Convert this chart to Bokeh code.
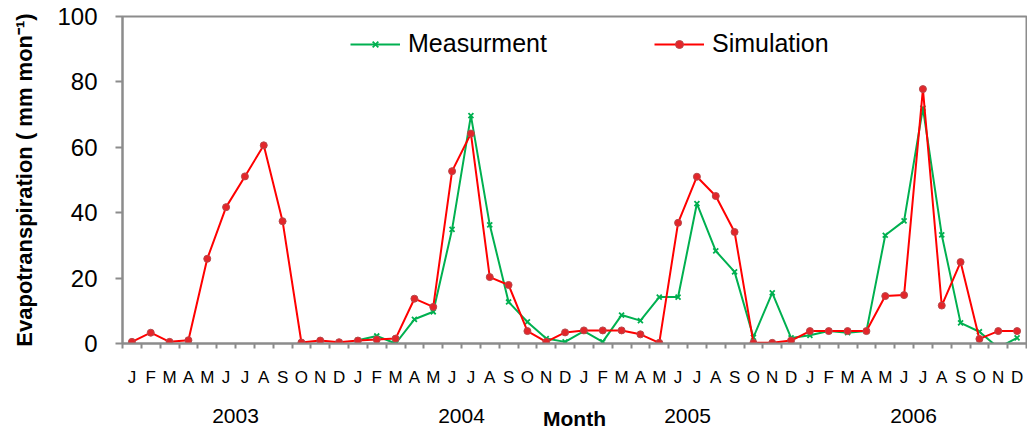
from bokeh.plotting import figure
from bokeh.models import Range1d, FixedTicker, LinearAxis, Legend, LegendItem
from bokeh.embed import file_html
from bokeh.resources import INLINE

# Month letters for Jan 2003 .. Dec 2006
month_letters = ["J", "F", "M", "A", "M", "J", "J", "A", "S", "O", "N", "D"]
years = ["2003", "2004", "2005", "2006"]

# Monthly evapotranspiration (mm/month), simulated from Jan 2003
simulation = [
    0.5, 3.3, 0.5, 1.0, 25.9, 41.7, 51.1, 60.6, 37.4, 0.3, 0.9, 0.4,
    0.9, 1.2, 1.5, 13.7, 11.2, 52.7, 64.2, 20.3, 17.9, 3.8, 0.5, 3.4,
    4.0, 4.0, 4.0, 2.8, 0.2, 36.9, 51.0, 45.1, 34.1, 0.2, 0.2, 0.9,
    3.8, 3.8, 3.8, 3.8, 14.5, 14.8, 77.8, 11.6, 24.9, 1.4, 3.8, 3.8,
]

# Measured values, available from Jan 2004
measurement = [
    1.0, 2.3, 0.0, 7.4, 9.7, 34.9, 69.7, 36.3, 12.7, 6.6, 1.5, 0.5,
    3.8, 0.5, 8.7, 7.0, 14.2, 14.2, 42.8, 28.3, 21.9, 1.9, 15.5, 1.7,
    2.5, 3.8, 3.3, 3.8, 33.1, 37.5, 72.0, 33.2, 6.3, 3.6, -1.3, 1.7,
]

n_months = len(month_letters) * len(years)
x_sim = [i + 0.5 for i in range(n_months)]
meas_start = n_months - len(measurement)
x_meas = [meas_start + i + 0.5 for i in range(len(measurement))]

GRAY = "#8c8c8c"
FONT = "Liberation Sans"
GREEN = "#00b050"
RED = "#ff0000"

p = figure(
    width=1027, height=432,
    x_range=Range1d(0, n_months), y_range=Range1d(0, 100),
    x_axis_type=None,
    output_backend="svg", toolbar_location=None,
    min_border_left=122, min_border_right=1,
    min_border_top=16, min_border_bottom=89,
    background_fill_color="white", border_fill_color="white",
)
p.grid.visible = False
p.outline_line_color = GRAY
p.outline_line_width = 2

# y axis
ya = p.yaxis[0]
ya.ticker = FixedTicker(ticks=[0, 20, 40, 60, 80, 100])
ya.axis_line_color = GRAY
ya.axis_line_width = 2
ya.major_tick_line_color = GRAY
ya.major_tick_line_width = 2
ya.major_tick_out = 7
ya.major_tick_in = 0
ya.minor_tick_line_color = None
ya.major_label_standoff = 18
ya.major_label_text_font = FONT
ya.major_label_text_font_size = "24px"
ya.major_label_text_color = "black"
ya.axis_label = "Evapotranspiration ( mm mon\u207b\u00b9)"
ya.axis_label_text_font = FONT
ya.axis_label_text_font_style = "bold"
ya.axis_label_text_font_size = "22px"
ya.axis_label_text_color = "black"
ya.axis_label_standoff = 17

# month axis: letters centred in each month, short ticks at month boundaries
month_ticks = [i + 0.5 for i in range(n_months)]
month_axis = LinearAxis(
    ticker=FixedTicker(ticks=month_ticks, minor_ticks=list(range(n_months + 1))),
    major_label_overrides={t: month_letters[i % 12] for i, t in enumerate(month_ticks)},
    axis_line_color=GRAY, axis_line_width=2,
    major_tick_line_color=None, major_tick_out=0, major_tick_in=0,
    minor_tick_line_color=GRAY, minor_tick_line_width=2,
    minor_tick_out=5, minor_tick_in=0,
    major_label_standoff=19,
    major_label_text_font=FONT, major_label_text_font_size="17px",
    major_label_text_color="black",
)
p.add_layout(month_axis, "below")

# year axis: one label per year, centred under its twelve months,
# with the bold axis title sharing the same line
year_ticks = [6 + 12 * i for i in range(len(years))]
year_axis = LinearAxis(
    ticker=FixedTicker(ticks=year_ticks),
    major_label_overrides={t: years[i] for i, t in enumerate(year_ticks)},
    axis_line_color=None, major_tick_line_color=None, minor_tick_line_color=None,
    major_tick_out=0, major_tick_in=0,
    major_label_standoff=19,
    major_label_text_font=FONT, major_label_text_font_size="21px",
    major_label_text_color="black",
    axis_label="Month",
    axis_label_text_font=FONT, axis_label_text_font_style="bold",
    axis_label_text_font_size="21px", axis_label_text_color="black",
    axis_label_standoff=-19,
)
p.add_layout(year_axis, "below")

# series
m_line = p.line(x_meas, measurement, line_color=GREEN, line_width=2)
m_pts = p.scatter(x_meas, measurement, marker="x", size=7,
                  line_color=GREEN, line_width=1.8)
s_line = p.line(x_sim, simulation, line_color=RED, line_width=2)
s_pts = p.scatter(x_sim, simulation, marker="circle", size=7,
                  fill_color="#e3262a", line_color="#b8474a", line_width=1)

legend = Legend(
    items=[LegendItem(label="Measurment", renderers=[m_line, m_pts]),
           LegendItem(label="Simulation", renderers=[s_line, s_pts])],
    orientation="horizontal", location=(228, 285),
    spacing=107, glyph_width=50, glyph_height=20, label_standoff=8,
    padding=0, margin=0,
    border_line_color=None, background_fill_alpha=0,
    label_text_font=FONT, label_text_font_size="25px", label_text_color="black",
)
p.add_layout(legend)

open("out.html", "w").write(file_html(p, INLINE))
